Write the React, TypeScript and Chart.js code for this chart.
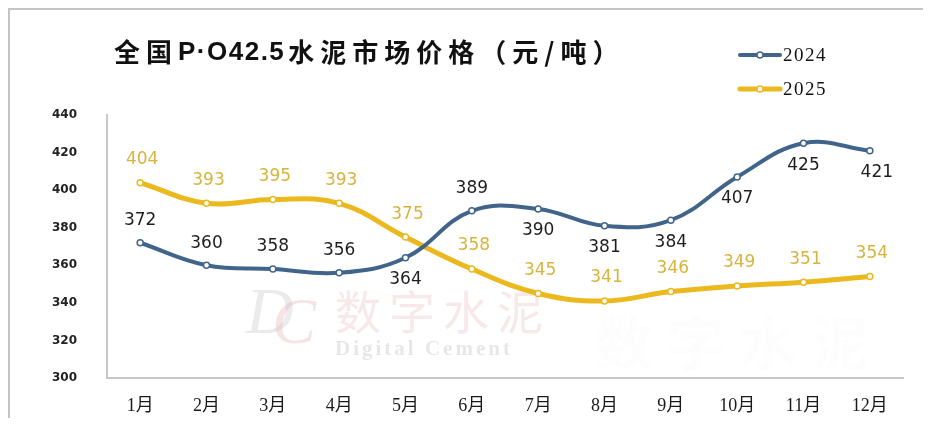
import React, { useEffect, useRef } from 'react';
import { Chart, registerables } from 'chart.js';

Chart.register(...registerables);

const MONTHS = ['1月', '2月', '3月', '4月', '5月', '6月', '7月', '8月', '9月', '10月', '11月', '12月'];
const PRICES_2024 = [372, 360, 358, 356, 364, 389, 390, 381, 384, 407, 425, 421];
const PRICES_2025 = [404, 393, 395, 393, 375, 358, 345, 341, 346, 349, 351, 354];
const SERIES_NAMES = ['2024', '2025'];
const Y_MIN = 300;
const Y_MAX = 440;
const Y_STEP = 20;
const TITLE_PARTS = ['全国', 'P·O42.5', '水泥市场价格（元/吨）'];
// label placement for 2024 values: -1 above the point, 1 below
const LABEL_SIDE_2024 = [-1, -1, -1, -1, 1, -1, 1, 1, 1, 1, 1, 1];

const BLUE = '#41648B';
const GOLD = '#EBB91E';
const GOLD_TEXT = '#D6B43E';
const DARK_TEXT = '#1e1e1e';

const decorPlugin = {
  id: 'decor',
  beforeDatasetsDraw(chart: any) {
    const ctx = chart.ctx as CanvasRenderingContext2D;
    ctx.save();
    ctx.textBaseline = 'middle';
    ctx.textAlign = 'left';
    // watermark logo
    ctx.font = 'italic 66px "Liberation Serif"';
    ctx.fillStyle = 'rgba(190,190,195,0.30)';
    ctx.fillText('D', 236, 306);
    ctx.fillStyle = 'rgba(225,165,170,0.30)';
    ctx.fillText('C', 262, 316);
    ctx.font = '46px "Noto Sans CJK SC"';
    (ctx as any).letterSpacing = '8px';
    ctx.fillStyle = 'rgba(225,165,170,0.26)';
    ctx.fillText('数字水泥', 325, 302);
    ctx.font = 'bold 21px "Liberation Serif"';
    (ctx as any).letterSpacing = '3px';
    ctx.fillStyle = 'rgba(185,185,185,0.35)';
    ctx.fillText('Digital Cement', 325, 340);
    ctx.font = 'bold 58px "Noto Sans CJK SC"';
    (ctx as any).letterSpacing = '14px';
    ctx.fillStyle = 'rgba(200,200,200,0.03)';
    ctx.fillText('数字水泥', 585, 333);
    ctx.restore();
  },
  afterDatasetsDraw(chart: any) {
    const ctx = chart.ctx as CanvasRenderingContext2D;
    ctx.save();
    ctx.textAlign = 'center';
    ctx.textBaseline = 'middle';
    ctx.font = '17px "DejaVu Sans"';
    const m0 = chart.getDatasetMeta(0);
    m0.data.forEach((pt: any, i: number) => {
      const side = LABEL_SIDE_2024[i];
      const dx = i === m0.data.length - 1 ? 7 : 0;
      ctx.fillStyle = DARK_TEXT;
      ctx.fillText(String(PRICES_2024[i]), pt.x + dx, pt.y + side * 22);
    });
    const m1 = chart.getDatasetMeta(1);
    m1.data.forEach((pt: any, i: number) => {
      ctx.fillStyle = GOLD_TEXT;
      ctx.fillText(String(PRICES_2025[i]), pt.x + 2, pt.y - 23);
    });
    ctx.restore();
  },
  afterDraw(chart: any) {
    const ctx = chart.ctx as CanvasRenderingContext2D;
    ctx.save();
    // title, drawn in segments (CJK spaced, latin condensed)
    ctx.textAlign = 'left';
    ctx.textBaseline = 'middle';
    ctx.fillStyle = '#111';
    let x = 104;
    TITLE_PARTS.forEach((part, i) => {
      const latin = i === 1;
      ctx.font = latin ? 'bold 26px "Liberation Sans"' : 'bold 26px "Noto Sans CJK SC"';
      (ctx as any).letterSpacing = latin ? '1.5px' : '6px';
      ctx.fillText(part, x, latin ? 43 : 42);
      x += ctx.measureText(part).width + (latin ? 3 : 0);
    });
    // legend
    const colors = [BLUE, GOLD];
    const rows = [45, 79];
    SERIES_NAMES.forEach((name, i) => {
      const y = rows[i];
      ctx.strokeStyle = colors[i];
      ctx.lineWidth = i === 0 ? 4 : 5;
      ctx.lineCap = 'round';
      ctx.beginPath();
      ctx.moveTo(730, y);
      ctx.lineTo(770, y);
      ctx.stroke();
      ctx.beginPath();
      ctx.arc(750, y, 3, 0, Math.PI * 2);
      ctx.fillStyle = '#fff';
      ctx.fill();
      ctx.lineWidth = 1.5;
      ctx.stroke();
      ctx.font = '19px "Liberation Serif"';
      (ctx as any).letterSpacing = '1.5px';
      ctx.fillStyle = '#111';
      ctx.fillText(name, 773, y + 1);
    });
    ctx.restore();
  },
};

export default function App() {
  const canvasRef = useRef<HTMLCanvasElement | null>(null);

  useEffect(() => {
    if (!canvasRef.current) return;
    const chart = new Chart(canvasRef.current, {
      type: 'line',
      data: {
        labels: MONTHS,
        datasets: [
          {
            label: SERIES_NAMES[0],
            data: PRICES_2024,
            borderColor: BLUE,
            borderWidth: 4,
            tension: 0.4,
            pointRadius: 3,
            pointBackgroundColor: '#ffffff',
            pointBorderColor: BLUE,
            pointBorderWidth: 1.5,
          },
          {
            label: SERIES_NAMES[1],
            data: PRICES_2025,
            borderColor: GOLD,
            borderWidth: 5,
            tension: 0.4,
            pointRadius: 3,
            pointBackgroundColor: '#ffffff',
            pointBorderColor: GOLD,
            pointBorderWidth: 1.5,
          },
        ],
      },
      options: {
        animation: false,
        responsive: false,
        devicePixelRatio: 1,
        layout: { padding: { top: 105, right: 28, left: 0, bottom: 0 } },
        plugins: {
          legend: { display: false },
          title: { display: false },
          tooltip: { enabled: false },
        },
        scales: {
          x: {
            offset: true,
            grid: { display: false },
            border: { display: true, color: '#c8c8c8', width: 2 },
            ticks: {
              padding: 9,
              color: '#1a1a1a',
              font: { family: '"Liberation Serif", "Noto Sans CJK SC"', size: 18 },
              maxRotation: 0,
              autoSkip: false,
            },
            afterFit: (scale: any) => {
              scale.height = 40;
            },
          },
          y: {
            min: Y_MIN,
            max: Y_MAX,
            grid: { display: false },
            border: { display: true, color: '#c8c8c8', width: 2 },
            ticks: {
              stepSize: Y_STEP,
              padding: 22,
              color: '#222',
              font: { family: '"DejaVu Sans"', size: 12, weight: 'bold' },
            },
            afterFit: (scale: any) => {
              scale.width = 97;
            },
          },
        },
      },
      plugins: [decorPlugin],
    } as any);
    return () => chart.destroy();
  }, []);

  return (
    <div
      style={{
        width: 923,
        height: 410,
        boxSizing: 'border-box',
        borderTop: '2px solid #c4c4c4',
        borderLeft: '2px solid #c4c4c4',
        background: '#fff',
      }}
    >
      <canvas ref={canvasRef} width={921} height={408} style={{ display: 'block' }} />
    </div>
  );
}
